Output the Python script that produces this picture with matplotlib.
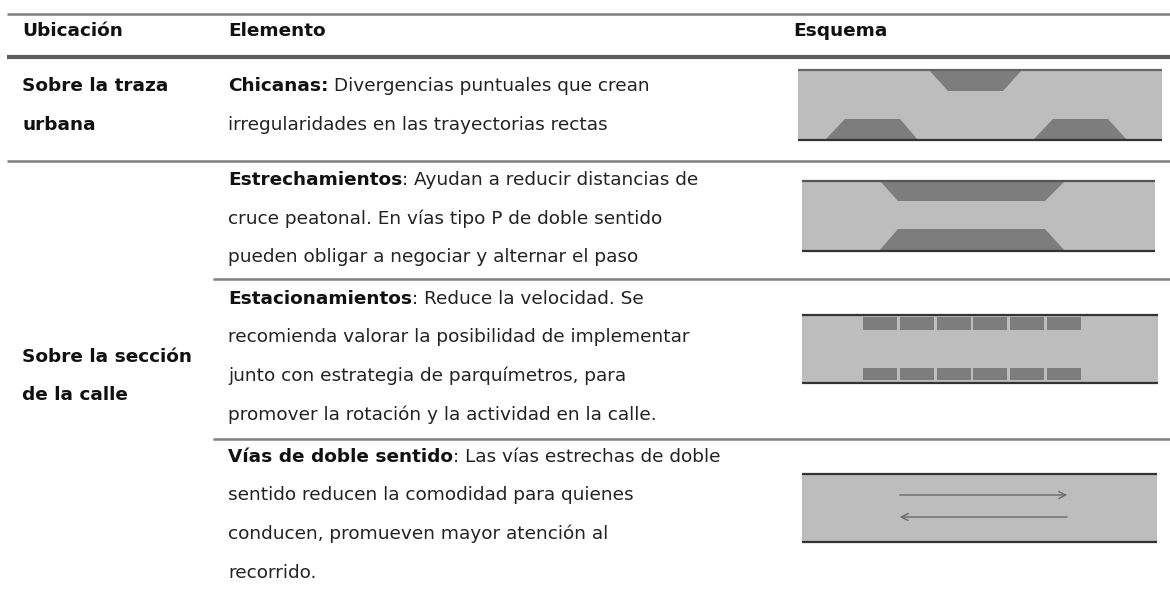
import matplotlib
matplotlib.use("Agg")
import matplotlib.pyplot as plt
from matplotlib.patches import Polygon, Rectangle

plt.rcParams['font.family'] = ['DejaVu Sans']

# --- table content ---
headers = ["Ubicación", "Elemento", "Esquema"]
ubicaciones = [["Sobre la traza", "urbana"], ["Sobre la sección", "de la calle"]]
ubic_y = [[84, 123], [355, 393]]

titulos = ["Chicanas:", "Estrechamientos", "Estacionamientos", "Vías de doble sentido"]
textos = [
    [" Divergencias puntuales que crean", "irregularidades en las trayectorias rectas"],
    [": Ayudan a reducir distancias de", "cruce peatonal. En vías tipo P de doble sentido",
     "pueden obligar a negociar y alternar el paso"],
    [": Reduce la velocidad. Se", "recomienda valorar la posibilidad de implementar",
     "junto con estrategia de parquímetros, para",
     "promover la rotación y la actividad en la calle."],
    [": Las vías estrechas de doble", "sentido reducen la comodidad para quienes",
     "conducen, promueven mayor atención al", "recorrido."],
]
texto_y0 = [84, 178, 297, 455]
paso = 38.5

# schematic boxes (x0, x1, y0, y1) for each element row
cajas = [(798, 1162, 70, 140), (802, 1155, 181, 251), (802, 1158, 315, 383), (802, 1157, 474, 542)]

FS = 13.3
fig = plt.figure(figsize=(11.7, 5.9), dpi=100)
ax = fig.add_axes([0, 0, 1, 1])
ax.set_xlim(0, 1170)
ax.set_ylim(590, 0)
ax.axis('off')

# rules
ax.plot([7, 1170], [14, 14], color='#808080', lw=1.8, solid_capstyle='butt')
ax.plot([7, 1170], [57, 57], color='#5e5e5e', lw=3.0, solid_capstyle='butt')
ax.plot([7, 1170], [161, 161], color='#808080', lw=1.8, solid_capstyle='butt')
for y in [279, 439]:
    ax.plot([213, 1170], [y, y], color='#808080', lw=1.8, solid_capstyle='butt')

VA = 'center_baseline'
# headers
for x, h in zip([22, 228, 793], headers):
    ax.text(x, 29, h, fontsize=FS, weight='bold', va=VA, ha='left', color='#111111')

for lines, ys in zip(ubicaciones, ubic_y):
    for s, y in zip(lines, ys):
        ax.text(22, y, s, fontsize=FS, weight='bold', va=VA, ha='left', color='#111111')

fig.canvas.draw()
r = fig.canvas.get_renderer()
for tit, lines, y0 in zip(titulos, textos, texto_y0):
    t = ax.text(228, y0, tit, fontsize=FS, weight='bold', va=VA, ha='left', color='#111111')
    bb = t.get_window_extent(renderer=r)
    ax.text(bb.x1, y0, lines[0], fontsize=FS, va=VA, ha='left', color='#222222')
    for i, s in enumerate(lines[1:], start=1):
        ax.text(228, y0 + i * paso, s, fontsize=FS, va=VA, ha='left', color='#222222')

road = '#bdbdbd'
dark = '#7d7d7d'

def caja(i, top='#333333', bottom='#333333'):
    x0, x1, y0, y1 = cajas[i]
    ax.add_patch(Rectangle((x0, y0), x1 - x0, y1 - y0, color=road, lw=0))
    ax.plot([x0, x1], [y0, y0], color=top, lw=1.6, solid_capstyle='butt')
    ax.plot([x0, x1], [y1, y1], color=bottom, lw=1.6, solid_capstyle='butt')

def trap(pts):
    ax.add_patch(Polygon(pts, closed=True, color=dark, lw=0))

# chicanas
caja(0, top='#666666')
trap([(929, 70), (1022, 70), (1003, 91), (948, 91)])
trap([(825, 140), (918, 140), (900, 119), (845, 119)])
trap([(1033, 140), (1127, 140), (1108, 119), (1053, 119)])

# estrechamientos
caja(1, top='#555555')
trap([(880, 181), (1065, 181), (1045, 201), (898, 201)])
trap([(879, 251), (1065, 251), (1045, 229), (898, 229)])

# estacionamientos
caja(2)
n_plazas = 6
for k in range(n_plazas):
    xk = 863 + k * 36.8
    ax.add_patch(Rectangle((xk, 317), 34, 13, color=dark, lw=0))
    ax.add_patch(Rectangle((xk, 368), 34, 12, color=dark, lw=0))

# vias de doble sentido
caja(3)
ax.annotate('', xy=(1070, 495), xytext=(897, 495),
            arrowprops=dict(arrowstyle='->,head_length=0.5,head_width=0.25', color='#6b6b6b', lw=1.0))
ax.annotate('', xy=(897, 517), xytext=(1070, 517),
            arrowprops=dict(arrowstyle='->,head_length=0.5,head_width=0.25', color='#6b6b6b', lw=1.0))

fig.savefig('out.png', dpi=100)
